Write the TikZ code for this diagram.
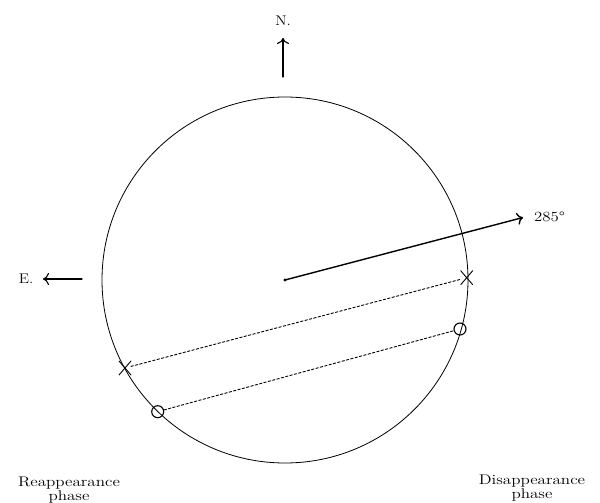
\documentclass[tikz,border=0pt]{standalone}
\usepackage{graphicx}
\usetikzlibrary{arrows.meta,shapes.misc}
\begin{document}
\begin{tikzpicture}[x=1pt,y=-1pt,line cap=round,
  rim/.style={line width=0.8pt},
  ray/.style={line width=1.4pt,-{To[length=6pt,width=12pt]}},
  track/.style={line width=0.9pt,dash pattern=on 2.5pt off 2pt},
  xmark/.style={cross out,draw,line width=0.9pt,minimum width=11pt,minimum height=13pt,inner sep=0pt},
  omark/.style={circle,draw,line width=1.1pt,minimum size=12pt,inner sep=0pt},
  lbl/.style={font=\fontsize{14}{14}\selectfont,inner sep=0pt,align=center},
]
\useasboundingbox (0,0) rectangle (600,503);
\coordinate (C) at (285,280);
\draw[rim] (C) circle[radius=183];
\fill (C) circle[radius=1.6];
% direction of motion
\coordinate (tip) at (523,217.5);
\draw[ray] (C) -- (tip);
\node[lbl,anchor=west] (pa) at (534,217) {\scalebox{1.2}[1]{285\textdegree}};
% compass
\coordinate (nS) at (283,77);
\coordinate (nT) at (283,38);
\draw[ray,line width=1.1pt] (nS) -- (nT);
\node[lbl] (N) at (283,21) {\scalebox{1.1}[1]{N.}};
\coordinate (eS) at (82,279);
\coordinate (eT) at (43,279);
\draw[ray,line width=1.1pt] (eS) -- (eT);
\node[lbl] (E) at (26,279) {\scalebox{1.1}[1]{E.}};
% contacts
\node[xmark] (xR) at (466.7,277.7) {};
\node[omark] (oR) at (460,329) {};
\node[xmark] (xL) at (125,368) {};
\node[omark] (oL) at (157.7,411.7) {};
\draw[track] (xL) -- (xR);
\draw[track] (oL) -- (oR);
% labels
\node[lbl] (re) at (69,490) {\scalebox{1.22}[1]{Reappearance}\\\scalebox{1.22}[1]{phase}};
\node[lbl] (di) at (532,488) {\scalebox{1.22}[1]{Disappearance}\\\scalebox{1.22}[1]{phase}};
\end{tikzpicture}
\end{document}
